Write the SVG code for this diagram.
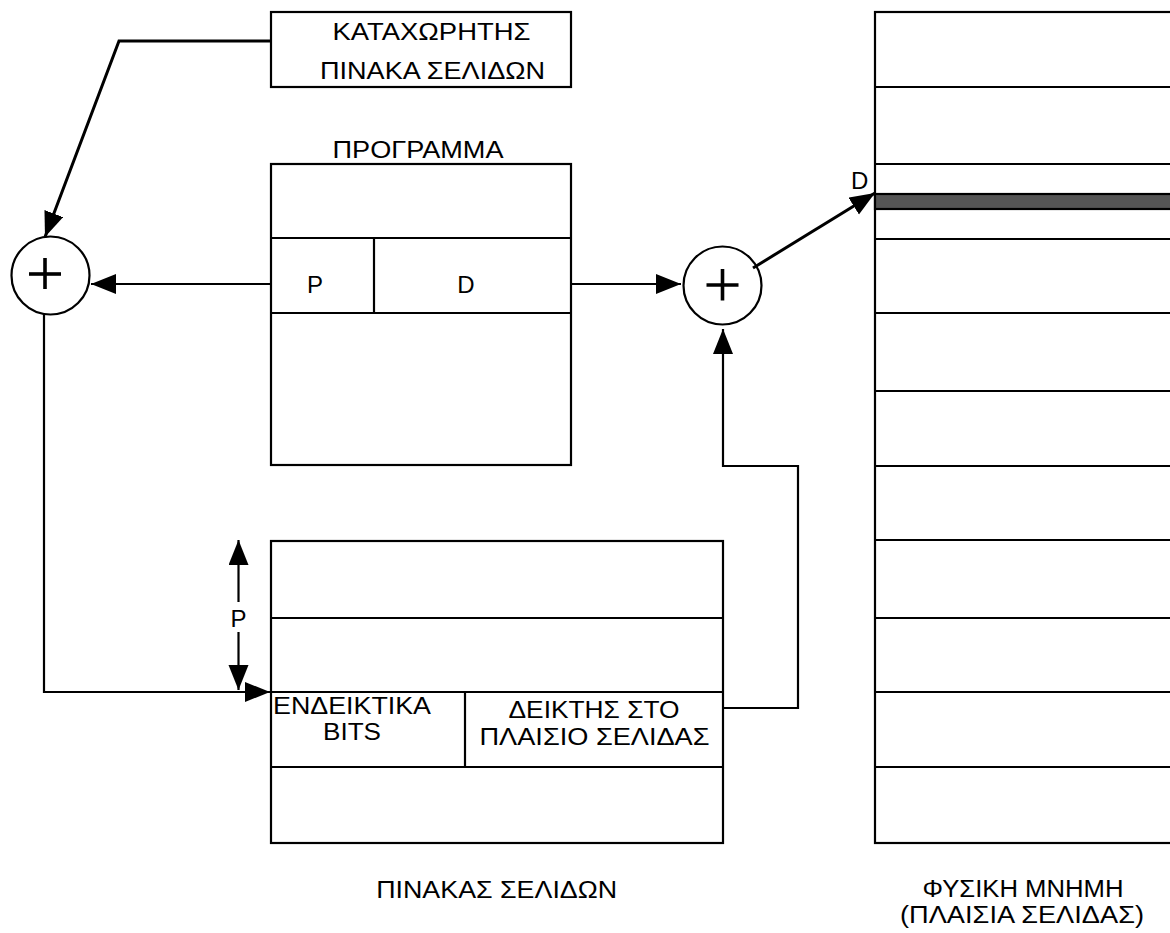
<svg xmlns="http://www.w3.org/2000/svg" width="1170" height="933" viewBox="0 0 1170 933">
<style>
.box{fill:#fff;stroke:#000;stroke-width:2.2}
.ln{fill:none;stroke:#000;stroke-width:2.2}
.thk{fill:none;stroke:#000;stroke-width:3}
.t{font-family:"Liberation Sans",Arial,sans-serif;font-size:24px;fill:#000;text-anchor:middle}
.s{font-size:23px}
.plus{stroke:#000;stroke-width:3.6;fill:none}
</style>
<defs>
<marker id="ah" markerUnits="userSpaceOnUse" markerWidth="26" markerHeight="22" refX="25" refY="10" orient="auto">
<path d="M0,0 L25,10 L0,20 Z" fill="#000"/>
</marker>
</defs>
<rect width="1170" height="933" fill="#fff"/>

<g id="page-table-register">
<rect class="box" x="271" y="12" width="300" height="75"/>
<text class="t" x="431.5" y="39.5" textLength="198" lengthAdjust="spacingAndGlyphs">ΚΑΤΑΧΩΡΗΤΗΣ</text>
<text class="t" x="432.5" y="78.5" textLength="225" lengthAdjust="spacingAndGlyphs">ΠΙΝΑΚΑ ΣΕΛΙΔΩΝ</text>
</g>

<g id="program">
<text class="t" x="418" y="158" textLength="171" lengthAdjust="spacingAndGlyphs">ΠΡΟΓΡΑΜΜΑ</text>
<rect class="box" x="271" y="164" width="300" height="301"/>
<line class="ln" x1="271" y1="238" x2="571" y2="238"/>
<line class="ln" x1="271" y1="313" x2="571" y2="313"/>
<line class="ln" x1="374" y1="238" x2="374" y2="313"/>
<text class="t" x="315" y="293">P</text>
<text class="t" x="466" y="293">D</text>
</g>

<g id="adder-left">
<circle class="box" cx="50.5" cy="275.5" r="39"/>
<line class="plus" x1="29" y1="274" x2="61" y2="274"/>
<line class="plus" x1="45" y1="258" x2="45" y2="289"/>
</g>

<g id="adder-right">
<circle class="box" cx="722.5" cy="285.5" r="39"/>
<line class="plus" x1="706.5" y1="285" x2="738.5" y2="285"/>
<line class="plus" x1="722.5" y1="269" x2="722.5" y2="300.5"/>
</g>

<g id="page-table">
<rect class="box" x="271" y="541" width="452" height="302"/>
<line class="ln" x1="271" y1="618" x2="723" y2="618"/>
<line class="ln" x1="271" y1="692" x2="723" y2="692"/>
<line class="ln" x1="271" y1="767" x2="723" y2="767"/>
<line class="ln" x1="465" y1="692" x2="465" y2="767"/>
<text class="t s" x="352" y="714" textLength="158" lengthAdjust="spacingAndGlyphs">ΕΝΔΕΙΚΤΙΚΑ</text>
<text class="t s" x="352" y="740" textLength="58" lengthAdjust="spacingAndGlyphs">BITS</text>
<text class="t" x="594" y="718" textLength="171" lengthAdjust="spacingAndGlyphs">ΔΕΙΚΤΗΣ ΣΤΟ</text>
<text class="t" x="594.5" y="745" textLength="230" lengthAdjust="spacingAndGlyphs">ΠΛΑΙΣΙΟ ΣΕΛΙΔΑΣ</text>
<text class="t" x="496.7" y="898" textLength="241" lengthAdjust="spacingAndGlyphs">ΠΙΝΑΚΑΣ ΣΕΛΙΔΩΝ</text>
</g>

<g id="physical-memory">
<rect class="box" x="875" y="12" width="310" height="831"/>
<line class="ln" x1="875" y1="87" x2="1175" y2="87"/>
<line class="ln" x1="875" y1="164" x2="1175" y2="164"/>
<rect x="875" y="194" width="310" height="15" fill="#555" stroke="#000" stroke-width="2.2"/>
<line class="ln" x1="875" y1="239" x2="1175" y2="239"/>
<line class="ln" x1="875" y1="313" x2="1175" y2="313"/>
<line class="ln" x1="875" y1="391" x2="1175" y2="391"/>
<line class="ln" x1="875" y1="466" x2="1175" y2="466"/>
<line class="ln" x1="875" y1="540" x2="1175" y2="540"/>
<line class="ln" x1="875" y1="618" x2="1175" y2="618"/>
<line class="ln" x1="875" y1="692" x2="1175" y2="692"/>
<line class="ln" x1="875" y1="767" x2="1175" y2="767"/>
<text class="t s" x="1023" y="897" textLength="201" lengthAdjust="spacingAndGlyphs">ΦΥΣΙΚΗ ΜΝΗΜΗ</text>
<text class="t s" x="1022" y="923" textLength="244" lengthAdjust="spacingAndGlyphs">(ΠΛΑΙΣΙΑ ΣΕΛΙΔΑΣ)</text>
</g>

<g id="connectors">
<polyline class="thk" points="271,41 119,41 45,237" marker-end="url(#ah)"/>
<line class="ln" x1="271" y1="284" x2="91" y2="284" marker-end="url(#ah)"/>
<polyline class="ln" points="44,314 44,692 270,692" marker-end="url(#ah)"/>
<line class="ln" x1="238.5" y1="602" x2="238.5" y2="540" marker-end="url(#ah)"/>
<line class="ln" x1="238.5" y1="632" x2="238.5" y2="690" marker-end="url(#ah)"/>
<text class="t" x="238.5" y="627">P</text>
<line class="ln" x1="571" y1="284" x2="681" y2="284" marker-end="url(#ah)"/>
<polyline class="ln" points="723,708 798,708 798,466 723,466 723,329" marker-end="url(#ah)"/>
<line class="thk" x1="753" y1="268" x2="875" y2="193" marker-end="url(#ah)"/>
<text class="t" x="859.6" y="189">D</text>
</g>
</svg>
